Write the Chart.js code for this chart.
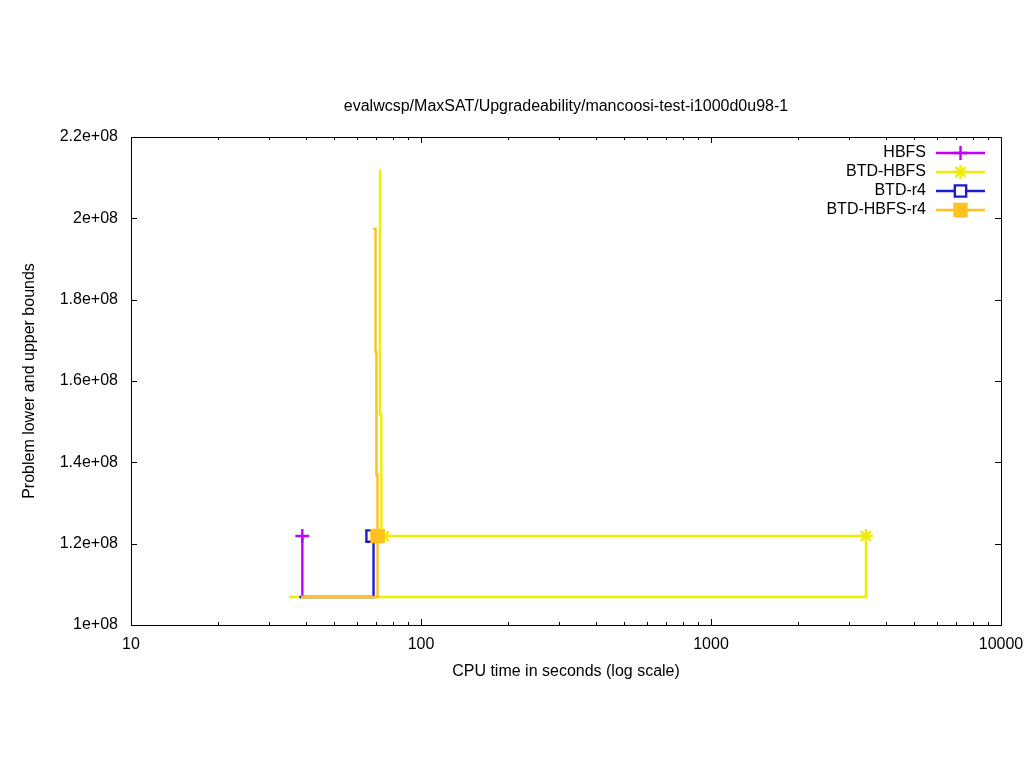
<!DOCTYPE html>
<html>
<head>
<meta charset="utf-8">
<title>mancoosi-test-i1000d0u98-1</title>
<script src="https://cdn.jsdelivr.net/npm/chart.js@4.4.1/dist/chart.umd.min.js"></script>
<style>
  html, body { margin: 0; padding: 0; background: #fff; }
  canvas { display: block; }
</style>
</head>
<body>
<canvas id="boundsChart" width="1024" height="768"></canvas>
<script>
const chartTitle = 'evalwcsp/MaxSAT/Upgradeability/mancoosi-test-i1000d0u98-1';
const xTitle = 'CPU time in seconds (log scale)';
const yTitle = 'Problem lower and upper bounds';

const seriesNames = ['HBFS', 'BTD-HBFS', 'BTD-r4', 'BTD-HBFS-r4'];
const seriesColors = ['#c000ff', '#eeee00', '#1c1cc8', '#ffc020'];

// lower bound path, then upper bound path back from the end point
const hbfsTime = [38.97, 38.97];
const hbfsBound = [1.0689e8, 1.2188e8];
const btdHbfsTime = [35.1, 3422, 3422, 73.0, 73.0, 72.2, 72.2];
const btdHbfsBound = [1.0689e8, 1.0689e8, 1.2188e8, 1.2188e8, 1.516e8, 1.516e8, 2.12e8];
const btdR4Time = [38.1, 68.6, 68.6];
const btdR4Bound = [1.0689e8, 1.0689e8, 1.2188e8];
const btdHbfsR4Time = [38.6, 70.8, 70.8, 70.8, 70.2, 70.2, 69.7, 69.7, 68.3];
const btdHbfsR4Bound = [1.0689e8, 1.0689e8, 1.2188e8, 1.369e8, 1.369e8, 1.671e8, 1.671e8, 1.974e8, 1.974e8];

// marked points
const hbfsMarkTime = [38.97];
const hbfsMarkBound = [1.2188e8];
const btdHbfsMarkTime = [74.4, 3422];
const btdHbfsMarkBound = [1.2188e8, 1.2188e8];
const btdR4MarkTime = [67.8];
const btdR4MarkBound = [1.2188e8];
const btdHbfsR4MarkTime = [70.8];
const btdHbfsR4MarkBound = [1.2188e8];

const xTicks = [10, 100, 1000, 10000];
const xTickLabels = ['10', '100', '1000', '10000'];
const yTicks = [1e8, 1.2e8, 1.4e8, 1.6e8, 1.8e8, 2e8, 2.2e8];
const yTickLabels = ['1e+08', '1.2e+08', '1.4e+08', '1.6e+08', '1.8e+08', '2e+08', '2.2e+08'];

const FONT = '"Liberation Sans", Arial, sans-serif';
const LINE_W = 2.4;

const toPoints = (xs, ys) => xs.map((x, i) => ({ x: x, y: ys[i] }));

const markerStyles = [
  { pointStyle: 'cross', radius: 7, fill: null },
  { pointStyle: 'star', radius: 7, fill: null },
  { pointStyle: 'rect', radius: 8, fill: '#ffffff' },
  { pointStyle: 'rect', radius: 8.5, fill: 'self' }
];

function lineSet(i, xs, ys, order) {
  return {
    label: seriesNames[i],
    data: toPoints(xs, ys),
    borderColor: seriesColors[i],
    borderWidth: LINE_W,
    pointRadius: 0,
    fill: false,
    tension: 0,
    order: order
  };
}

function markSet(i, xs, ys, order) {
  const m = markerStyles[i];
  return {
    label: seriesNames[i] + ' marks',
    data: toPoints(xs, ys),
    showLine: false,
    borderColor: seriesColors[i],
    pointBorderColor: seriesColors[i],
    pointBackgroundColor: m.fill === 'self' ? seriesColors[i] : (m.fill || seriesColors[i]),
    pointStyle: m.pointStyle,
    pointRadius: m.radius,
    pointBorderWidth: LINE_W,
    order: order
  };
}

// draw a legend marker in the same shapes Chart.js uses
function drawMark(ctx, i, x, y) {
  const m = markerStyles[i];
  const r = m.radius;
  ctx.save();
  ctx.strokeStyle = seriesColors[i];
  ctx.lineWidth = LINE_W;
  ctx.beginPath();
  if (m.pointStyle === 'cross' || m.pointStyle === 'star') {
    ctx.moveTo(x, y - r); ctx.lineTo(x, y + r);
    ctx.moveTo(x - r, y); ctx.lineTo(x + r, y);
    if (m.pointStyle === 'star') {
      const d = r * Math.SQRT1_2;
      ctx.moveTo(x - d, y - d); ctx.lineTo(x + d, y + d);
      ctx.moveTo(x - d, y + d); ctx.lineTo(x + d, y - d);
    }
    ctx.stroke();
  } else {
    const s = r * Math.SQRT1_2;
    ctx.rect(x - s, y - s, 2 * s, 2 * s);
    ctx.fillStyle = m.fill === 'self' ? seriesColors[i] : m.fill;
    ctx.fill();
    ctx.stroke();
  }
  ctx.restore();
}

const frame = {
  id: 'frame',
  afterDraw(chart) {
    const ctx = chart.ctx;
    const a = chart.chartArea;
    const xs = chart.scales.x;
    const ys = chart.scales.y;
    ctx.save();
    ctx.strokeStyle = '#000';
    ctx.lineWidth = 1;
    ctx.beginPath();
    // y ticks, inward on both sides
    yTicks.forEach(v => {
      const py = Math.round(ys.getPixelForValue(v)) + 0.5;
      ctx.moveTo(a.left, py); ctx.lineTo(a.left + 6, py);
      ctx.moveTo(a.right, py); ctx.lineTo(a.right - 6, py);
    });
    // x ticks, major and minor, inward on bottom and top
    for (let d = 10; d < 10000; d *= 10) {
      for (let k = 1; k <= 10; k++) {
        const px = Math.round(xs.getPixelForValue(d * k)) + 0.5;
        const len = (k === 1 || k === 10) ? 6 : 3;
        ctx.moveTo(px, a.bottom); ctx.lineTo(px, a.bottom - len);
        ctx.moveTo(px, a.top); ctx.lineTo(px, a.top + len);
      }
    }
    ctx.stroke();
    ctx.strokeRect(Math.round(a.left) + 0.5, Math.round(a.top) + 0.5,
                   Math.round(a.right - a.left), Math.round(a.bottom - a.top));

    // titles
    ctx.fillStyle = '#000';
    ctx.font = '16px ' + FONT;
    ctx.textAlign = 'center';
    ctx.textBaseline = 'middle';
    const cx = (a.left + a.right) / 2;
    ctx.fillText(chartTitle, cx, 107);
    ctx.fillText(xTitle, cx, 672);
    ctx.save();
    ctx.translate(30, (a.top + a.bottom) / 2);
    ctx.rotate(-Math.PI / 2);
    ctx.fillText(yTitle, 0, 0);
    ctx.restore();

    // legend, top right inside the plot
    const rowY = [153, 172, 191, 210];
    seriesNames.forEach((name, i) => {
      const y = rowY[i];
      ctx.textAlign = 'right';
      ctx.fillStyle = '#000';
      ctx.fillText(name, 926, y);
      ctx.strokeStyle = seriesColors[i];
      ctx.lineWidth = LINE_W;
      ctx.beginPath();
      ctx.moveTo(936, y); ctx.lineTo(985, y);
      ctx.stroke();
      drawMark(ctx, i, 960.5, y);
    });
    ctx.restore();
  }
};

new Chart(document.getElementById('boundsChart').getContext('2d'), {
  type: 'line',
  data: {
    datasets: [
      lineSet(0, hbfsTime, hbfsBound, 8),
      markSet(0, hbfsMarkTime, hbfsMarkBound, 7),
      lineSet(1, btdHbfsTime, btdHbfsBound, 6),
      markSet(1, btdHbfsMarkTime, btdHbfsMarkBound, 5),
      lineSet(2, btdR4Time, btdR4Bound, 4),
      markSet(2, btdR4MarkTime, btdR4MarkBound, 3),
      lineSet(3, btdHbfsR4Time, btdHbfsR4Bound, 2),
      markSet(3, btdHbfsR4MarkTime, btdHbfsR4MarkBound, 1)
    ]
  },
  options: {
    responsive: false,
    animation: false,
    events: [],
    layout: { padding: { top: 137, right: 23, left: 0, bottom: 0 } },
    plugins: {
      legend: { display: false },
      title: { display: false },
      tooltip: { enabled: false }
    },
    scales: {
      x: {
        type: 'logarithmic',
        min: 10,
        max: 10000,
        grid: { display: false, drawTicks: false },
        border: { display: false },
        afterBuildTicks: s => { s.ticks = xTicks.map(v => ({ value: v })); },
        afterFit: s => { s.height = 143; s.paddingLeft = 0; s.paddingRight = 0; },
        ticks: {
          autoSkip: false,
          maxRotation: 0,
          padding: 10,
          color: '#000',
          font: { family: FONT, size: 16 },
          callback: (v, i) => xTickLabels[i]
        }
      },
      y: {
        type: 'linear',
        min: 1e8,
        max: 2.2e8,
        grid: { display: false, drawTicks: false },
        border: { display: false },
        afterBuildTicks: s => { s.ticks = yTicks.map(v => ({ value: v })); },
        afterFit: s => { s.width = 131; s.paddingTop = 0; s.paddingBottom = 0; },
        ticks: {
          padding: 13,
          color: '#000',
          font: { family: FONT, size: 16 },
          callback: (v, i) => yTickLabels[i]
        }
      }
    }
  },
  plugins: [frame]
});
</script>
</body>
</html>
